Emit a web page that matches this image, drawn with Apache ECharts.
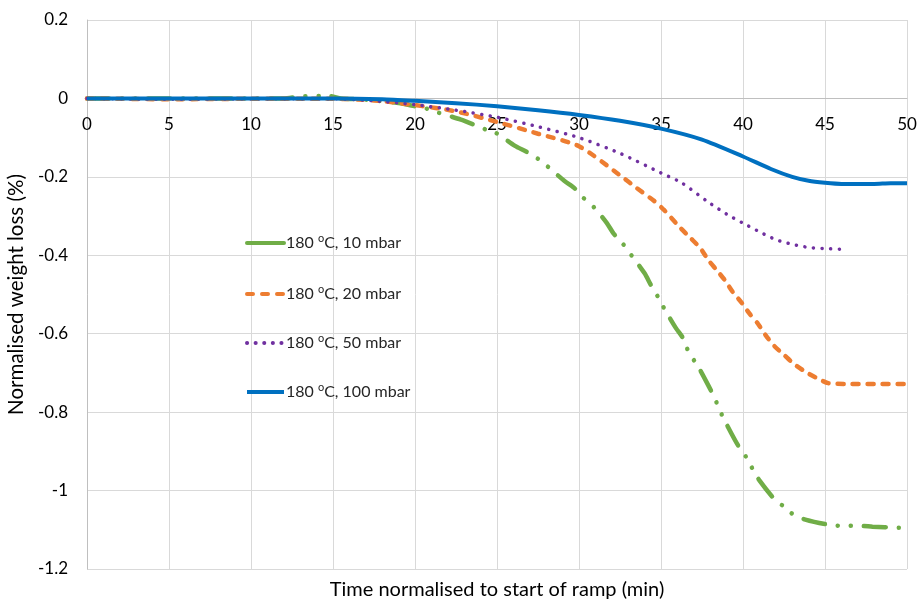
<!DOCTYPE html>
<html><head><meta charset="utf-8">
<script src="https://cdn.jsdelivr.net/npm/echarts@6/dist/echarts.min.js"></script>
<style>html,body{margin:0;padding:0;background:#fff}#c{width:919px;height:601px}</style>
</head><body><div id="c"></div>
<script>
var names = ['180 °C, 10 mbar', '180 °C, 20 mbar', '180 °C, 50 mbar', '180 °C, 100 mbar'];
var xTicks = [0, 5, 10, 15, 20, 25, 30, 35, 40, 45, 50];
var yTicks = [0.2, 0, -0.2, -0.4, -0.6, -0.8, -1, -1.2];

var t10 = [0, 5, 10, 12, 13, 14.8, 15.5, 17, 19, 20, 20.7, 21.4, 22.8, 23.6, 24.3, 24.9, 26.1, 26.8, 27.5, 28.1, 29.1, 29.7, 30.2, 30.9, 31.7, 32.1, 32.7, 33.2, 34.0, 34.4, 34.8, 35.2, 35.9, 36.4, 36.7, 37.2, 37.9, 38.3, 38.6, 39.0, 39.7, 40.2, 40.6, 41.0, 41.9, 42.5, 43.1, 43.8, 45.2, 46.1, 47.1, 47.9, 49.5];
var w10 = [0, 0, 0, 0, 0.005, 0.006, 0, -0.003, -0.012, -0.02, -0.026, -0.036, -0.054, -0.067, -0.079, -0.087, -0.121, -0.136, -0.154, -0.174, -0.21, -0.228, -0.251, -0.277, -0.318, -0.344, -0.372, -0.4, -0.446, -0.477, -0.505, -0.536, -0.585, -0.615, -0.649, -0.679, -0.733, -0.767, -0.797, -0.831, -0.885, -0.915, -0.946, -0.974, -1.021, -1.041, -1.062, -1.074, -1.087, -1.09, -1.09, -1.092, -1.095];

var t20 = [0, 5, 10, 15, 17.5, 20, 22.5, 25, 27.5, 30, 32.5, 33.5, 34.6, 35.2, 36.2, 36.8, 37.4, 37.9, 38.4, 38.9, 39.4, 39.9, 40.4, 40.9, 41.4, 41.9, 42.5, 43.1, 43.8, 44.5, 45.2, 46.2, 48, 50];
var w20 = [0, -0.002, -0.001, -0.001, -0.005, -0.017, -0.033, -0.06, -0.09, -0.122, -0.196, -0.228, -0.262, -0.285, -0.331, -0.356, -0.382, -0.413, -0.438, -0.464, -0.495, -0.52, -0.549, -0.574, -0.605, -0.631, -0.654, -0.677, -0.697, -0.713, -0.726, -0.728, -0.728, -0.728];

var t50 = [0, 5, 10, 15, 17.5, 20, 22.5, 25, 27.5, 30, 32.5, 35, 36.25, 37.8, 39, 40, 41, 42, 43, 44, 45, 46.3];
var w50 = [0, -0.002, -0.001, -0.001, -0.006, -0.016, -0.03, -0.048, -0.072, -0.1, -0.14, -0.19, -0.215, -0.262, -0.295, -0.318, -0.34, -0.36, -0.372, -0.38, -0.383, -0.385];

var t100 = [0, 5, 10, 15, 18, 20, 22.5, 25, 27.5, 30, 32.5, 35, 37.5, 40, 41.7, 43, 44, 45, 46, 48, 49, 50];
var w100 = [0, 0, 0, 0, -0.002, -0.006, -0.012, -0.02, -0.03, -0.042, -0.057, -0.077, -0.105, -0.148, -0.18, -0.2, -0.21, -0.215, -0.218, -0.218, -0.216, -0.216];

var colors = ['#70AD47', '#ED7D31', '#7030A0', '#0070C0'];
var FONT = 'Lato, "Liberation Sans", sans-serif';

function pairs(t, w) { return t.map(function (v, i) { return [v, w[i]]; }); }

var chart = echarts.init(document.getElementById('c'), null, { renderer: 'canvas' });
var legendTops = [233, 284, 333, 382];
var fmt = function (n) { return n.replace('°', '{sup|o}'); };
var legends = names.map(function (n, i) {
  return {
    data: [i === 0 ? { name: n, lineStyle: { type: 'solid' } } : n],
    left: 245, top: legendTops[i], orient: 'vertical', padding: 0,
    itemWidth: 37, itemHeight: 14, itemGap: 2,
    selectedMode: false,
    lineStyle: { width: 4 },
    itemStyle: { opacity: 0 },
    formatter: fmt,
    textStyle: { fontFamily: FONT, fontSize: 16, color: '#262626', padding: [0, 0, 0, -3],
      rich: { sup: { fontFamily: FONT, fontSize: 11, color: '#262626', padding: [0, 0, 9, 0] } } }
  };
});

var series = [
  { name: names[0], data: pairs(t10, w10), lineStyle: { width: 4.5, type: [22, 13, 0.1, 13, 0.1, 13], cap: 'round' } },
  { name: names[1], data: pairs(t20, w20), lineStyle: { width: 4.5, type: [6, 9], cap: 'round' } },
  { name: names[2], data: pairs(t50, w50), lineStyle: { width: 3.5, type: [0.1, 8.5], cap: 'round' } },
  { name: names[3], data: pairs(t100, w100), lineStyle: { width: 4, type: 'solid' } }
].map(function (s, i) {
  s.type = 'line'; s.symbol = 'none'; s.smooth = 0.25; s.color = colors[i];
  s.lineStyle.color = colors[i]; s.animation = false;
  s.xAxisIndex = 0; s.yAxisIndex = 0;
  return s;
});

chart.setOption({
  animation: false,
  backgroundColor: '#ffffff',
  grid: [
    { left: 87, right: 12, top: 20, bottom: 32, containLabel: false, outerBoundsMode: 'none' },
    { left: 87, right: 12, top: 20, height: 78, containLabel: false, outerBoundsMode: 'none' }
  ],
  legend: legends,
  xAxis: [{
    gridIndex: 0, type: 'value', min: xTicks[0], max: xTicks[xTicks.length - 1], interval: 5,
    axisLine: { show: false }, axisTick: { show: false }, axisLabel: { show: false },
    splitLine: { show: true, lineStyle: { color: '#d9d9d9', width: 1 } }
  }, {
    gridIndex: 1, type: 'value', min: xTicks[0], max: xTicks[xTicks.length - 1], interval: 5,
    position: 'bottom',
    axisLine: { show: true, onZero: false, lineStyle: { color: '#bfbfbf', width: 1 } },
    axisTick: { show: false },
    axisLabel: { fontFamily: FONT, fontSize: 17, color: '#000', margin: 18 },
    splitLine: { show: false }
  }],
  yAxis: [{
    gridIndex: 0, type: 'value', min: yTicks[yTicks.length - 1], max: yTicks[0], interval: 0.2,
    axisLine: { show: true, onZero: false, lineStyle: { color: '#bfbfbf', width: 1 } },
    axisTick: { show: false },
    axisLabel: { fontFamily: FONT, fontSize: 17, color: '#000', margin: 19,
      formatter: function (v) { return String(Math.round(v * 10) / 10); } },
    splitLine: { show: true, lineStyle: { color: '#d9d9d9', width: 1 } },
    name: 'Normalised weight loss (%)', nameLocation: 'middle', nameGap: 58,
    nameTextStyle: { fontFamily: FONT, fontSize: 20.5, color: '#000' }
  }, {
    gridIndex: 1, type: 'value', min: 0, max: 1, show: false
  }],
  graphic: [{
    type: 'text', x: 497, y: 580,
    style: { text: 'Time normalised to start of ramp (min)', font: '20px ' + FONT, fill: '#000', textAlign: 'center' }
  }],
  series: series
});
</script></body></html>
